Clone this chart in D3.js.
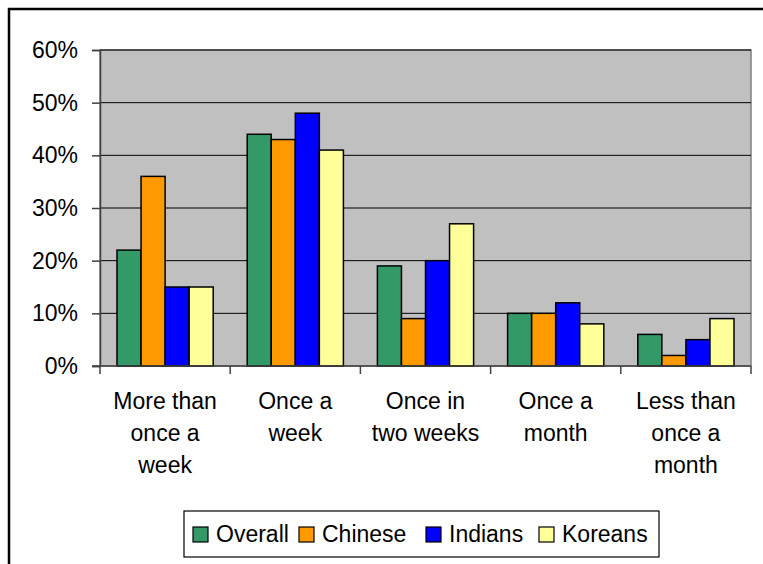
<!DOCTYPE html>
<html>
<head>
<meta charset="utf-8">
<script src="https://d3js.org/d3.v7.min.js"></script>
<style>
  body { margin: 0; background: #fff; }
  text { font-family: "Liberation Sans", Arial, sans-serif; fill: #000; }
</style>
</head>
<body>
<script>
  // chart data
  var categories = [
    ["More than", "once a", "week"],
    ["Once a", "week"],
    ["Once in", "two weeks"],
    ["Once a", "month"],
    ["Less than", "once a", "month"]
  ];
  var seriesNames = ["Overall", "Chinese", "Indians", "Koreans"];
  var seriesColors = ["#339966", "#FF9900", "#0000FF", "#FFFF99"];
  var overall = [22, 44, 19, 10, 6];
  var chinese = [36, 43, 9, 10, 2];
  var indians = [15, 48, 20, 12, 5];
  var koreans = [15, 41, 27, 8, 9];
  var yTicks = [0, 10, 20, 30, 40, 50, 60];

  var series = [overall, chinese, indians, koreans];

  var W = 763, H = 564;
  var plot = { left: 100, top: 50, right: 751, bottom: 366 };
  var fontSize = 23;

  var svg = d3.select("body").append("svg")
      .attr("width", W).attr("height", H);

  // outer frame (only left + top fall inside the picture)
  svg.append("rect")
      .attr("x", 9).attr("y", 9)
      .attr("width", W + 20).attr("height", H + 20)
      .attr("fill", "#fff")
      .attr("stroke", "#000").attr("stroke-width", 2.5);

  var x0 = d3.scaleBand()
      .domain(d3.range(categories.length))
      .range([plot.left, plot.right])
      .paddingInner(0).paddingOuter(0);

  var x1 = d3.scaleBand()
      .domain(d3.range(series.length))
      .range([17, x0.bandwidth() - 17]);

  var y = d3.scaleLinear().domain([0, 60]).range([plot.bottom, plot.top]);

  // plot background
  svg.append("rect")
      .attr("x", plot.left).attr("y", plot.top)
      .attr("width", plot.right - plot.left).attr("height", plot.bottom - plot.top)
      .attr("fill", "#C0C0C0")
      .attr("stroke", "#808080").attr("stroke-width", 1.5);

  // gridlines
  svg.append("g").selectAll("line")
      .data(yTicks.filter(function(d) { return d > 0; }))
      .enter().append("line")
      .attr("x1", plot.left).attr("x2", plot.right)
      .attr("y1", function(d) { return y(d); })
      .attr("y2", function(d) { return y(d); })
      .attr("stroke", "#000").attr("stroke-width", 1);

  // bars
  var groups = svg.append("g").selectAll("g")
      .data(categories)
      .enter().append("g")
      .attr("transform", function(d, i) { return "translate(" + x0(i) + ",0)"; });

  groups.selectAll("rect")
      .data(function(d, i) { return series.map(function(s, j) { return { s: j, v: s[i] }; }); })
      .enter().append("rect")
      .attr("x", function(d) { return x1(d.s); })
      .attr("y", function(d) { return y(d.v); })
      .attr("width", x1.bandwidth())
      .attr("height", function(d) { return y(0) - y(d.v); })
      .attr("fill", function(d) { return seriesColors[d.s]; })
      .attr("stroke", "#000").attr("stroke-width", 1.5);

  // y axis
  var yAxis = svg.append("g")
      .attr("transform", "translate(" + plot.left + ",0)")
      .call(d3.axisLeft(y).tickValues(yTicks)
        .tickFormat(function(d) { return d + "%"; })
        .tickSize(8).tickPadding(14));
  yAxis.attr("font-size", fontSize).attr("font-family", null);
  yAxis.select(".domain").attr("stroke", "#404040").attr("stroke-width", 1.5);
  yAxis.selectAll(".tick line").attr("stroke", "#404040").attr("stroke-width", 1.5);
  yAxis.selectAll(".tick text").attr("fill", "#000");

  // x axis line + category ticks
  svg.append("line")
      .attr("x1", plot.left - 8).attr("x2", plot.right)
      .attr("y1", plot.bottom).attr("y2", plot.bottom)
      .attr("stroke", "#404040").attr("stroke-width", 1.5);

  svg.append("g").selectAll("line")
      .data(d3.range(categories.length + 1))
      .enter().append("line")
      .attr("x1", function(i) { return plot.left + i * x0.step(); })
      .attr("x2", function(i) { return plot.left + i * x0.step(); })
      .attr("y1", plot.bottom).attr("y2", plot.bottom + 8)
      .attr("stroke", "#404040").attr("stroke-width", 1.5);

  // category labels
  var labels = svg.append("g").selectAll("text")
      .data(categories)
      .enter().append("text")
      .attr("text-anchor", "middle")
      .attr("font-size", fontSize)
      .attr("x", function(d, i) { return x0(i) + x0.bandwidth() / 2; })
      .attr("y", 409);

  labels.selectAll("tspan")
      .data(function(d) { return d; })
      .enter().append("tspan")
      .attr("x", function() { return d3.select(this.parentNode).attr("x"); })
      .attr("dy", function(d, i) { return i === 0 ? 0 : 32; })
      .text(function(d) { return d; });

  // legend
  var legend = svg.append("g");
  legend.append("rect")
      .attr("x", 184).attr("y", 511)
      .attr("width", 475).attr("height", 46)
      .attr("fill", "#fff")
      .attr("stroke", "#000").attr("stroke-width", 1.2);

  var legendX = [193, 299, 426, 539];
  var items = legend.selectAll("g.item")
      .data(seriesNames)
      .enter().append("g")
      .attr("class", "item")
      .attr("transform", function(d, i) { return "translate(" + legendX[i] + ",527)"; });

  items.append("rect")
      .attr("width", 15).attr("height", 15)
      .attr("fill", function(d, i) { return seriesColors[i]; })
      .attr("stroke", "#000").attr("stroke-width", 1.2);

  items.append("text")
      .attr("x", 23).attr("y", 15)
      .attr("font-size", fontSize)
      .text(function(d) { return d; });
</script>
</body>
</html>
